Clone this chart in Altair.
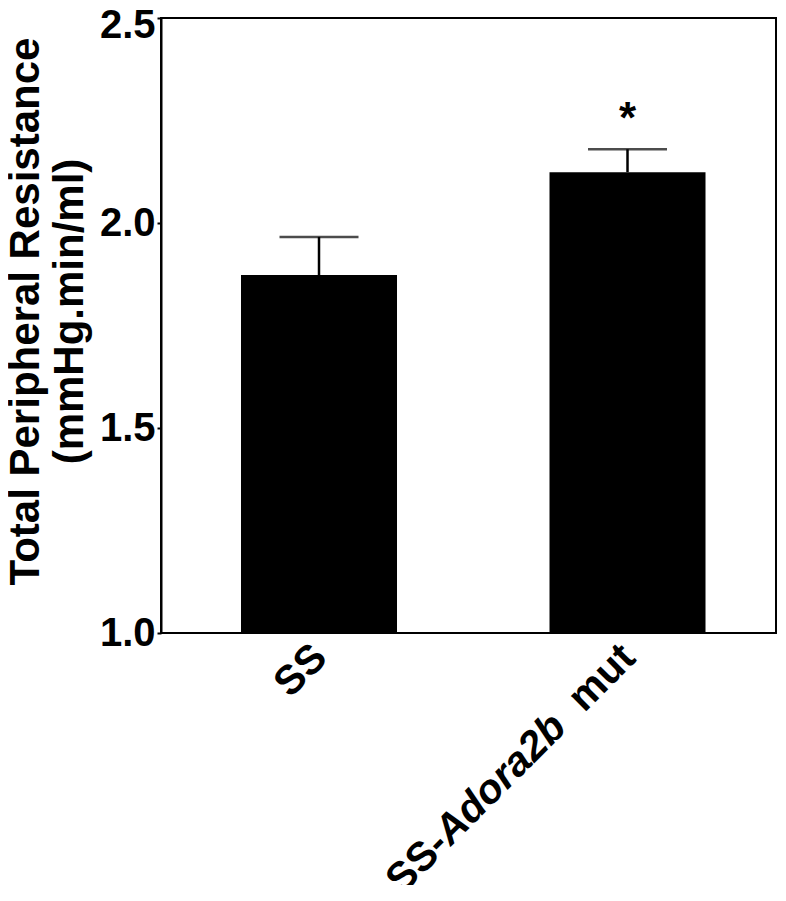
import altair as alt
import pandas as pd

# ---- data ----
groups = ["SS", "SS-Adora2b  mut"]
means = [1.873, 2.124]
sems = [0.093, 0.056]          # upper error (SEM)
sig_groups = ["SS-Adora2b  mut"]
sig_marks = ["*"]
sig_y = [2.22]
y_ticks = [1.0, 1.5, 2.0, 2.5]
y_base = 1.0

# label pieces (SS-*Adora2b* mut, gene name italic)
lab_end_groups = ["SS", "SS-Adora2b  mut"]
lab_end_text = ["SS", "mut"]
lab_mid_groups = ["SS-Adora2b  mut"]
lab_mid_text = ["Adora2b"]
lab_start_groups = ["SS-Adora2b  mut"]
lab_start_text = ["SS-"]

FONT = "Liberation Sans"

df = pd.DataFrame({"group": groups, "mean": means, "sem": sems})
df["upper"] = df["mean"] + df["sem"]
df["base"] = y_base

xenc = alt.X("group:N", sort=groups, axis=None,
             scale=alt.Scale(paddingInner=0.4943, paddingOuter=0.2439, align=0.5316))

yscale = alt.Scale(domain=[1.0, 2.5], nice=False, zero=False)
yaxis = alt.Axis(
    values=y_ticks, format=".1f", grid=False,
    labelFont=FONT, labelFontSize=40, labelFontWeight="bold", labelColor="black",
    labelPadding=2, tickSize=4, tickWidth=2, tickColor="black",
    labelOffset={"condition": {"test": "datum.value == 2.5", "value": 7}, "value": 0},
    domainColor="black", domainWidth=2,
    title=["Total Peripheral Resistance", "(mmHg.min/ml)"],
    titleFont=FONT, titleFontSize=42, titleFontWeight="bold", titleColor="black",
    titleAngle=270, titleAlign="center", titleBaseline="alphabetic",
    titleLineHeight=44, titleX=-123, titleY=293,
)

bars = alt.Chart(df).mark_bar(color="black").encode(
    x=xenc,
    y=alt.Y("mean:Q", scale=yscale, axis=yaxis),
    y2="base:Q",
)

err = alt.Chart(df).mark_rule(color="black", strokeWidth=2.5).encode(
    x=xenc,
    y=alt.Y("mean:Q", scale=yscale),
    y2="upper:Q",
)

caps = alt.Chart(df).mark_tick(color="black", thickness=2.5, size=79, orient="horizontal").encode(
    x=xenc,
    y=alt.Y("upper:Q", scale=yscale),
)

sig_df = pd.DataFrame({"group": sig_groups, "mark": sig_marks, "y": sig_y})
sig = alt.Chart(sig_df).mark_text(
    font=FONT, fontSize=44, fontWeight="bold", color="black",
    align="center", baseline="alphabetic",
).encode(
    x=xenc,
    y=alt.Y("y:Q", scale=yscale),
    text="mark:N",
)

def label_layer(gs, texts, dx, style):
    d = pd.DataFrame({"group": gs, "txt": texts})
    return alt.Chart(d).mark_text(
        font=FONT, fontSize=41, fontWeight="bold", fontStyle=style, color="black",
        align="right", baseline="alphabetic", angle=315, dx=dx,
    ).encode(
        x=xenc,
        y=alt.value(652),
        text="txt:N",
    )

lab_end = label_layer(lab_end_groups, lab_end_text, 14.1, "normal")
lab_mid = label_layer(lab_mid_groups, lab_mid_text, 14.1 - 97.9, "italic")
lab_start = label_layer(lab_start_groups, lab_start_text, 14.1 - 264.2, "normal")

chart = alt.layer(bars, err, caps, sig, lab_end, lab_mid, lab_start).properties(
    width=615, height=615,
    background="white",
    autosize=alt.AutoSizeParams(type="none"),
    padding={"left": 153, "top": 10, "right": 2, "bottom": 252},
).configure_view(
    stroke="black", strokeWidth=2,
)

chart.save("out.html", embed_options={"renderer": "svg", "actions": False})
